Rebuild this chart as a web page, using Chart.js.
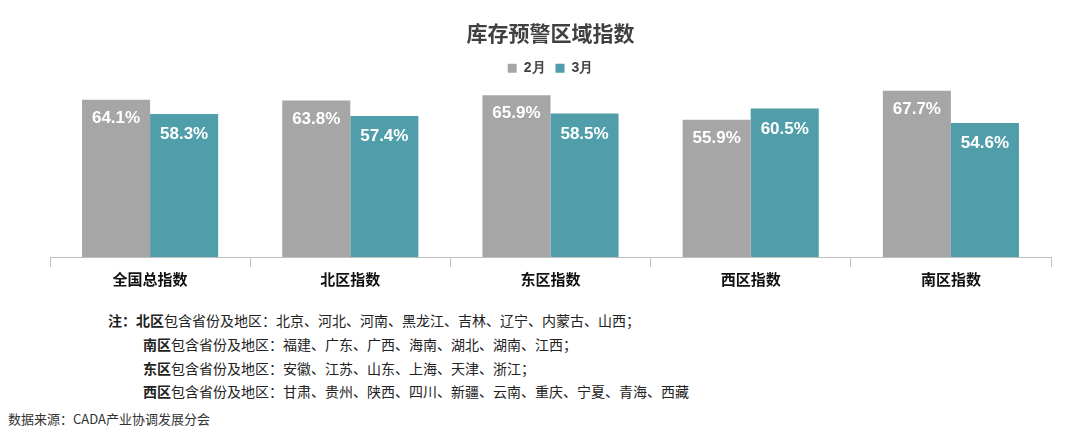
<!DOCTYPE html>
<html><head><meta charset="utf-8">
<script src="https://cdn.jsdelivr.net/npm/chart.js@4/dist/chart.umd.min.js"></script>
<style>
body{margin:0;background:#fff;font-family:"Noto Sans CJK SC",sans-serif;}
#wrap{position:relative;width:1079px;height:300px;}
.note{position:absolute;font-size:14px;color:#222;white-space:nowrap;}
.note b{font-weight:bold;}
</style></head><body>
<div id="wrap"><canvas id="c" width="1079" height="291"></canvas></div>
<div class="note" style="left:108px;top:310px"><b>注：北区</b>包含省份及地区：北京、河北、河南、黑龙江、吉林、辽宁、内蒙古、山西；</div>
<div class="note" style="left:143px;top:334px"><b>南区</b>包含省份及地区：福建、广东、广西、海南、湖北、湖南、江西；</div>
<div class="note" style="left:143px;top:358px"><b>东区</b>包含省份及地区：安徽、江苏、山东、上海、天津、浙江；</div>
<div class="note" style="left:143px;top:381px"><b>西区</b>包含省份及地区：甘肃、贵州、陕西、四川、新疆、云南、重庆、宁夏、青海、西藏</div>
<div class="note" style="left:8px;top:409px;font-size:13px;color:#333">数据来源：CADA产业协调发展分会</div>
<script>
const categories = ['全国总指数', '北区指数', '东区指数', '西区指数', '南区指数'];
const feb = [64.1, 63.8, 65.9, 55.9, 67.7];
const mar = [58.3, 57.4, 58.5, 60.5, 54.6];

const labelPlugin = {
  id: 'labels',
  afterDatasetsDraw(chart) {
    const ctx = chart.ctx;
    ctx.save();
    ctx.font = 'bold 17px "Liberation Sans", sans-serif';
    ctx.fillStyle = '#fff';
    ctx.textAlign = 'center';
    ctx.textBaseline = 'top';
    chart.data.datasets.forEach((ds, i) => {
      chart.getDatasetMeta(i).data.forEach((bar, j) => {
        ctx.fillText(ds.data[j].toFixed(1) + '%', bar.x, bar.y + (i ? 12 : 10));
      });
    });
    ctx.restore();
  }
};

new Chart(document.getElementById('c'), {
  type: 'bar',
  data: {
    labels: categories,
    datasets: [
      { label: '2月', data: feb, backgroundColor: '#a6a6a6' },
      { label: '3月', data: mar, backgroundColor: '#4f9ea9' }
    ]
  },
  options: {
    responsive: false,
    animation: false,
    layout: { padding: { left: 50, right: 28, top: 20 } },
    datasets: { bar: { categoryPercentage: 0.68, barPercentage: 1 } },
    plugins: {
      title: { display: true, text: '库存预警区域指数', color: '#404040',
        font: { size: 21, weight: 'bold', family: '"Noto Sans CJK SC"' }, padding: { bottom: 6 } },
      legend: { labels: { boxWidth: 9, boxHeight: 9, color: '#404040',
        font: { size: 14, weight: 'bold' } } },
      tooltip: { enabled: false }
    },
    scales: {
      x: {
        grid: { offset: true, drawOnChartArea: false, tickLength: 10, color: '#bfbfbf' },
        border: { color: '#bfbfbf' },
        ticks: { color: '#111', font: { size: 15, weight: 'bold', family: '"Noto Sans CJK SC"' } }
      },
      y: { display: false, min: 0, max: 70 }
    }
  },
  plugins: [labelPlugin]
});
</script>
</body></html>
